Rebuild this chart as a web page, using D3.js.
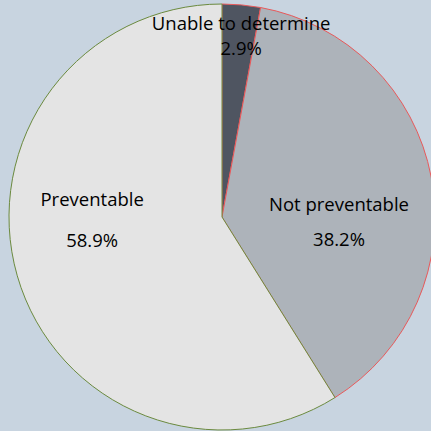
<!DOCTYPE html>
<html>
<head>
<meta charset="utf-8">
<script src="https://cdn.jsdelivr.net/npm/d3@7"></script>
<style>
  html, body { margin: 0; padding: 0; background: #c8d4e0; }
  text { font-family: "Open Sans", "Noto Sans", sans-serif; fill: #000; }
</style>
</head>
<body>
<div id="chart"></div>
<script>
// Data
const categories = ['Unable to determine', 'Not preventable', 'Preventable']
const values = [2.9, 38.2, 58.9]
const fills = ['#4f5561', '#adb3ba', '#e4e4e4']
const strokes = ['#e8595a', '#e8595a', '#6b8a3e']
// label placement: angle (deg, clockwise from top) and radius fraction
const labelAngles = [6, 93, 268]
const labelRadii = [0.86, 0.55, 0.61]
// baseline offsets of the name line and the percent line
const nameDy = [-5, -12, -16]
const pctDy = [20, 23, 25]

function draw() {
    let dimension = {
        width: 431,
        height: 431,
        cx: 222,
        cy: 217,
        radius: 213
    }

    const svg = d3.select('#chart')
        .append('svg')
        .attr('width', dimension.width)
        .attr('height', dimension.height)

    svg.append('rect')
        .attr('width', dimension.width)
        .attr('height', dimension.height)
        .attr('fill', '#c8d4e0')

    const ctr = svg.append('g')
        .attr('transform', `translate(${dimension.cx}, ${dimension.cy})`)

    const dataset = categories.map((c, i) => ({ name: c, value: values[i], i }))

    const pie = d3.pie()
        .value(d => d.value)
        .sort(null)

    const arc = d3.arc()
        .innerRadius(0)
        .outerRadius(dimension.radius)

    const slices = pie(dataset)

    ctr.selectAll('path')
        .data(slices)
        .join('path')
        .attr('d', arc)
        .attr('fill', d => fills[d.data.i])
        .attr('stroke', d => strokes[d.data.i])
        .attr('stroke-width', 1)

    // Labels
    const labels = ctr.selectAll('text')
        .data(slices)
        .join('text')
        .attr('text-anchor', 'middle')
        .attr('font-size', 18.5)
        .attr('transform', d => {
            const a = labelAngles[d.data.i] * Math.PI / 180
            const r = labelRadii[d.data.i] * dimension.radius
            return `translate(${r * Math.sin(a)}, ${-r * Math.cos(a)})`
        })

    labels.append('tspan')
        .attr('x', 0)
        .attr('y', d => nameDy[d.data.i])
        .text(d => d.data.name)

    labels.append('tspan')
        .attr('x', 0)
        .attr('y', d => pctDy[d.data.i])
        .text(d => d.data.value.toFixed(1) + '%')
}

draw()
</script>
</body>
</html>
